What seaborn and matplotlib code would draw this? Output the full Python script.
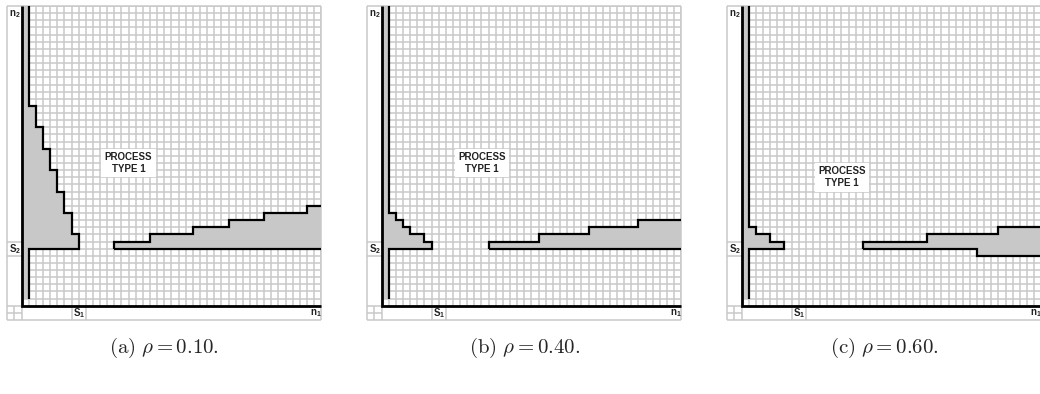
import matplotlib
matplotlib.use("Agg")
import matplotlib.pyplot as plt
import seaborn as sns

# Lattice of states: n_cells per side, the first two rows/columns hold the labels
n_cells = 44
s1, s2 = 10, 10
strip_bottom = 3

captions = ["(a)", "(b)", "(c)"]
rho_values = [0.10, 0.40, 0.60]
region_label = "PROCESS\nTYPE 1"

# Region hugging the n2 axis: column edges and the top of each column
left_edges_a = [3, 4, 5, 6, 7, 8, 9, 10]
left_tops_a = [30, 27, 24, 21, 18, 15, 12]
left_edges_b = [3, 4, 5, 6, 8, 9]
left_tops_b = [15, 14, 13, 12, 11]
left_edges_c = [3, 4, 6, 8]
left_tops_c = [13, 12, 11]

# Region along the n1 axis: column edges, top and bottom of each column
right_edges_a = [15, 20, 26, 31, 36, 42, 44]
right_tops_a = [11, 12, 13, 14, 15, 16]
right_bottoms_a = [10, 10, 10, 10, 10, 10]
right_edges_b = [17, 24, 31, 38, 44]
right_tops_b = [11, 12, 13, 14]
right_bottoms_b = [10, 10, 10, 10]
right_edges_c = [19, 28, 35, 38, 44]
right_tops_c = [11, 12, 12, 13]
right_bottoms_c = [10, 10, 9, 9]

panels = [
    (left_edges_a, left_tops_a, right_edges_a, right_tops_a, right_bottoms_a),
    (left_edges_b, left_tops_b, right_edges_b, right_tops_b, right_bottoms_b),
    (left_edges_c, left_tops_c, right_edges_c, right_tops_c, right_bottoms_c),
]

# Layout
label_xy = [(17.0, 22.0), (16.1, 22.0), (16.1, 20.0)]
panel_left_px = [7.3, 367.3, 727.3]
panel_size_px = 314.0
panel_bottom_px = 320.0
W, H = 1040, 394

FILL = "#c8c8c8"
GRID = "#c9c9c9"
LABEL_FONT = ["Liberation Sans", "DejaVu Sans"]

sns.set_theme(style="white")
plt.rcParams["font.family"] = LABEL_FONT
plt.rcParams["mathtext.fontset"] = "custom"
plt.rcParams["mathtext.rm"] = "Liberation Sans"
plt.rcParams["mathtext.bf"] = "Liberation Sans:bold"
plt.rcParams["mathtext.it"] = "Liberation Sans:italic"


def step_path(edges, levels):
    xs, ys = [], []
    for i, lv in enumerate(levels):
        xs += [edges[i], edges[i + 1]]
        ys += [lv, lv]
    return xs, ys


def outline(ax, xs, ys):
    sns.lineplot(x=xs, y=ys, sort=False, estimator=None, color="black",
                 linewidth=1.6, ax=ax, zorder=4,
                 solid_joinstyle="miter", solid_capstyle="butt")


def draw_panel(ax, left_edges, left_tops, right_edges, right_tops, right_bottoms, lxy):
    ax.set_xlim(0, n_cells)
    ax.set_ylim(0, n_cells)
    ax.set_axis_off()

    # grid of the state space
    inner = range(2, n_cells + 1)
    ax.vlines(list(inner), 2, n_cells, color=GRID, lw=1.1, zorder=1)
    ax.hlines(list(inner), 2, n_cells, color=GRID, lw=1.1, zorder=1)
    # frame and label cells
    ax.vlines([0, n_cells], 0, n_cells, color=GRID, lw=1.1, zorder=1, clip_on=False)
    ax.hlines([0, n_cells], 0, n_cells, color=GRID, lw=1.1, zorder=1, clip_on=False)
    ax.vlines([1, 2], 0, 2, color=GRID, lw=1.1, zorder=1)
    ax.hlines([1, 2], 0, 2, color=GRID, lw=1.1, zorder=1)
    ax.vlines([s1 - 1, s1 + 1], 0, 2, color=GRID, lw=1.1, zorder=1)
    ax.hlines([s2 - 1, s2 + 1], 0, 2, color=GRID, lw=1.1, zorder=1)

    # strip along the n2 axis
    ax.fill_between([2, 3], [strip_bottom] * 2, [n_cells] * 2, color=FILL, lw=0, zorder=2)
    # region near the n2 axis
    ax.fill_between(left_edges, [s2] * len(left_edges), left_tops + [left_tops[-1]],
                    step="post", color=FILL, lw=0, zorder=2)
    sx, sy = step_path(left_edges, left_tops)
    e0, ek = left_edges[0], left_edges[-1]
    outline(ax, [e0] + sx + [ek, e0, e0], [n_cells] + sy + [s2, s2, strip_bottom])

    # region along the n1 axis
    ax.fill_between(right_edges, right_bottoms + [right_bottoms[-1]],
                    right_tops + [right_tops[-1]], step="post", color=FILL, lw=0, zorder=2)
    tx, ty = step_path(right_edges, right_tops)
    outline(ax, [right_edges[0]] + tx, [right_bottoms[0]] + ty)
    bx, by = step_path(right_edges, right_bottoms)
    outline(ax, bx, by)

    # axes
    ax.plot([2, 2, n_cells], [n_cells, 2, 2], color="black", lw=2.0, zorder=5,
            solid_joinstyle="miter", solid_capstyle="butt", clip_on=False)

    # labels
    kw = dict(fontsize=7, fontweight="bold", color="#222222", zorder=6)
    ax.text(0.3, n_cells - 1.1, r"$\mathbf{n_2}$", ha="left", va="center", **kw)
    ax.text(0.3, s2, r"$\mathbf{S_2}$", ha="left", va="center", **kw)
    ax.text(s1 - 0.75, 1.0, r"$\mathbf{S_1}$", ha="left", va="center", **kw)
    ax.text(n_cells - 1.6, 1.0, r"$\mathbf{n_1}$", ha="left", va="center", **kw)
    ax.text(lxy[0], lxy[1], region_label, ha="center", va="center",
            linespacing=1.25, multialignment="center",
            bbox=dict(boxstyle="square,pad=0.35", fc="white", ec="none"), **kw)


fig = plt.figure(figsize=(W / 100, H / 100), dpi=100)
for i, spec in enumerate(panels):
    ax = fig.add_axes([panel_left_px[i] / W, (H - panel_bottom_px) / H,
                       panel_size_px / W, panel_size_px / H])
    draw_panel(ax, *spec, label_xy[i])
    cx = (panel_left_px[i] + panel_size_px / 2) / W
    fig.text(cx, (H - 348) / H,
             r"$\mathrm{%s}\ \rho = %.2f.$" % (captions[i], rho_values[i]),
             ha="center", va="center", fontsize=15, math_fontfamily="cm")

fig.savefig("out.png", dpi=100)
